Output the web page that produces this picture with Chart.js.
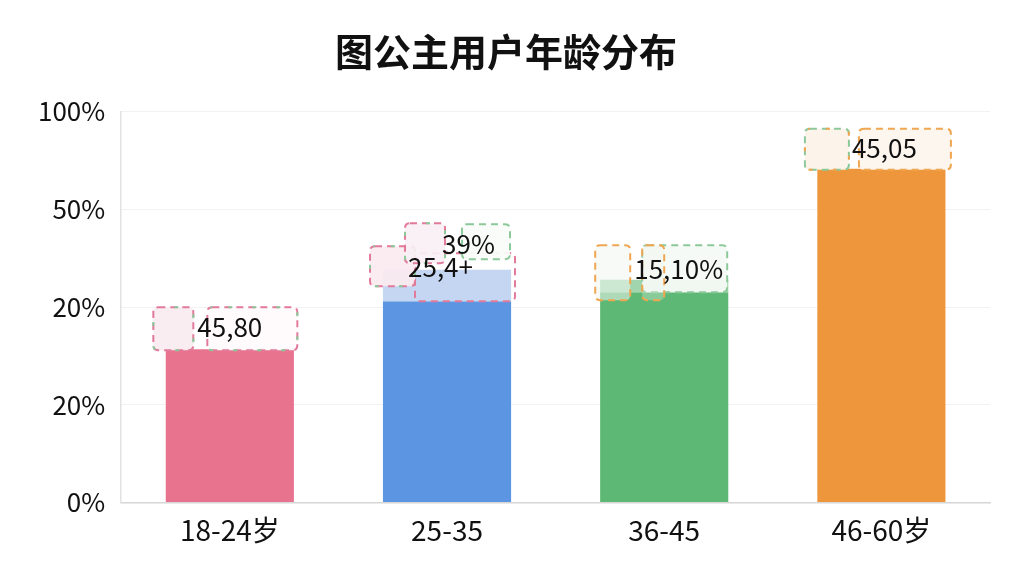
<!DOCTYPE html>
<html>
<head>
<meta charset="utf-8">
<script src="https://cdn.jsdelivr.net/npm/chart.js@4.4.0/dist/chart.umd.min.js"></script>
<style>
html,body{margin:0;padding:0;background:#fff;}
#wrap{width:1024px;height:576px;}
</style>
</head>
<body>
<div id="wrap"><canvas id="c" width="1024" height="576"></canvas></div>
<script>
const categories = ['18-24岁', '25-35', '36-45', '46-60岁'];
const values = [39.2, 51.5, 53.8, 85.4];
const overlayValues = [null, [51.5, 59.5], [53.8, 57.0], null];
const tickLabels = ['0%', '20%', '20%', '50%', '100%'];
const labelTexts = [['45,80'], ['25,4+', '39%'], ['15,10%'], ['45,05']];

const barColors = ['#E8738F', '#5C96E3', '#5EB875', '#EE963B'];
const overlayColors = ['rgba(0,0,0,0)', 'rgba(196,214,242,1)', 'rgba(150,208,164,0.9)', 'rgba(0,0,0,0)'];
const FONT = "'Noto Sans CJK SC', 'Noto Sans', sans-serif";

const PINK = '#E27A9A', GREEN = '#8CC99A', ORANGE = '#F0A650';
// box geometry relative to bar center (cx) and bar top (ty): [dx0, dy0, dx1, dy1, stroke, alt, fill]
const boxStyles = [
  [
    [-76.5, -42, -36.5, 1, PINK, GREEN, 'rgba(250,236,241,0.95)'],
    [-22.5, -42, 67.5, 1, PINK, GREEN, 'rgba(255,251,252,0.96)']
  ],
  [
    [-32, -48, 68, 0, PINK, null, 'rgba(0,0,0,0)'],
    [-77, -55, -32, -15, PINK, GREEN, 'rgba(250,234,240,0.92)'],
    [-42, -78, -2, -38, PINK, GREEN, 'rgba(249,240,244,0.92)'],
    [15, -77, 63, -42, GREEN, null, 'rgba(250,252,250,0.96)']
  ],
  [
    [-22, -47, 63, 0, GREEN, null, 'rgba(245,250,246,0.95)'],
    [-69, -47, -34, 8, ORANGE, null, 'rgba(240,246,240,0.55)'],
    [-22, -47, 0, 8, ORANGE, null, 'rgba(240,246,240,0.3)']
  ],
  [
    [-76.5, -40, -32.5, 1, GREEN, ORANGE, 'rgba(252,243,233,0.95)'],
    [-22.5, -40, 69.5, 1, ORANGE, null, 'rgba(253,246,237,0.96)']
  ]
];
const textOffsets = [
  [[-32.5, -22]],
  [[-39, -34], [-5, -57]],
  [[-30, -23]],
  [[-29.5, -21]]
];

function roundRect(ctx, x, y, w, h, r) {
  ctx.beginPath();
  ctx.moveTo(x + r, y);
  ctx.lineTo(x + w - r, y);
  ctx.quadraticCurveTo(x + w, y, x + w, y + r);
  ctx.lineTo(x + w, y + h - r);
  ctx.quadraticCurveTo(x + w, y + h, x + w - r, y + h);
  ctx.lineTo(x + r, y + h);
  ctx.quadraticCurveTo(x, y + h, x, y + h - r);
  ctx.lineTo(x, y + r);
  ctx.quadraticCurveTo(x, y, x + r, y);
  ctx.closePath();
}

const labelPlugin = {
  id: 'labelBoxes',
  afterDatasetsDraw(chart) {
    const ctx = chart.ctx;
    const meta = chart.getDatasetMeta(0);
    meta.data.forEach((bar, i) => {
      const cx = bar.x, ty = bar.y;
      ctx.save();
      boxStyles[i].forEach(b => {
        const x0 = cx + b[0], y0 = ty + b[1], w = b[2] - b[0], h = b[3] - b[1];
        roundRect(ctx, x0, y0, w, h, 5);
        ctx.fillStyle = b[6];
        ctx.fill();
        ctx.lineWidth = 2;
        ctx.setLineDash([7, 5]);
        ctx.lineDashOffset = 0;
        ctx.strokeStyle = b[4];
        ctx.stroke();
        if (b[5]) {
          ctx.setLineDash([4, 20]);
          ctx.lineDashOffset = 8;
          ctx.strokeStyle = b[5];
          ctx.stroke();
        }
      });
      ctx.setLineDash([]);
      ctx.fillStyle = '#111';
      ctx.font = "26px " + FONT;
      ctx.textAlign = 'left';
      ctx.textBaseline = 'middle';
      labelTexts[i].forEach((t, k) => {
        const o = textOffsets[i][k];
        ctx.fillText(t, cx + o[0], ty + o[1]);
      });
      ctx.restore();
    });
  }
};

new Chart(document.getElementById('c'), {
  type: 'bar',
  data: {
    labels: categories,
    datasets: [
      {
        data: values,
        backgroundColor: barColors,
        borderWidth: 0,
        barPercentage: 0.59,
        categoryPercentage: 1.0,
        grouped: false,
        order: 2
      },
      {
        data: overlayValues,
        backgroundColor: overlayColors,
        borderWidth: 0,
        barPercentage: 0.59,
        categoryPercentage: 1.0,
        grouped: false,
        order: 1
      }
    ]
  },
  plugins: [labelPlugin],
  options: {
    responsive: false,
    animation: false,
    devicePixelRatio: 1,
    layout: { padding: { left: 22, right: 34, top: 0, bottom: 26 } },
    plugins: {
      legend: { display: false },
      tooltip: { enabled: false },
      title: {
        display: true,
        text: '图公主用户年龄分布',
        color: '#111',
        font: { family: FONT, size: 38, weight: 'bold' },
        padding: { top: 29, bottom: 37 }
      }
    },
    scales: {
      x: {
        grid: { display: false },
        border: { display: true, color: '#d6d6d6', width: 1.5 },
        ticks: { color: '#111', font: { family: FONT, size: 28 }, padding: 3 }
      },
      y: {
        min: 0,
        max: 100,
        ticks: {
          stepSize: 25,
          color: '#111',
          font: { family: FONT, size: 26 },
          padding: 16,
          callback: (v, i) => tickLabels[i]
        },
        grid: { color: 'rgba(0,0,0,0.05)', drawTicks: false },
        border: { display: true, color: '#e2e2e2', width: 1.5 }
      }
    }
  }
});
</script>
</body>
</html>
